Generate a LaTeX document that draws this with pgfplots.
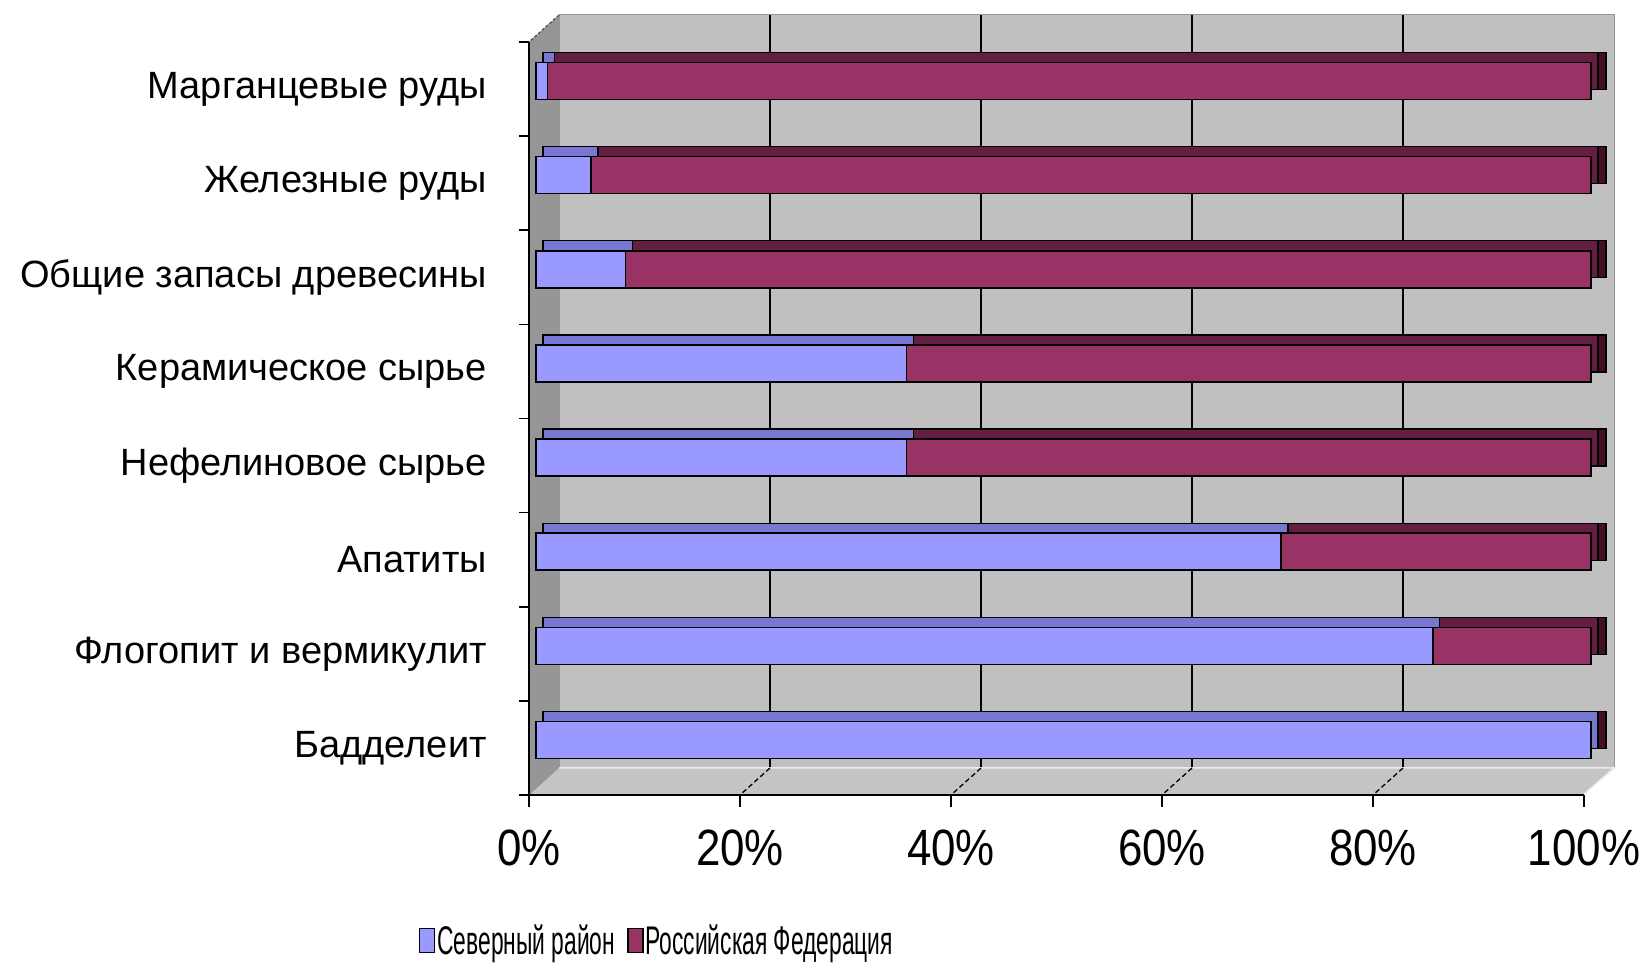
\documentclass[border=0pt]{standalone}
\usepackage{fontspec}
\setmainfont{Liberation Sans}
\usepackage{graphicx}
\usepackage{pgfplots}
\usepackage{pgfplotstable}
\pgfplotsset{compat=1.18}
\definecolor{wall}{RGB}{192,192,192}
\definecolor{sidew}{RGB}{150,150,150}
\definecolor{floorc}{RGB}{196,196,196}
\definecolor{north}{RGB}{153,153,255}
\definecolor{russ}{RGB}{153,51,102}
\definecolor{northtop}{RGB}{120,120,210}
\definecolor{russtop}{RGB}{100,30,65}
\definecolor{russside}{RGB}{70,15,40}
\pgfplotstableread{
y north russia
0.5 100.0 0.0
1.5 85.0 15.0
2.5 70.6 29.4
3.5 35.1 64.9
4.5 35.1 64.9
5.5 8.5 91.5
6.5 5.2 94.8
7.5 1.1 98.9
}\datatable
\pgfplotsset{
  base/.style={scale only axis, width=1055bp, height=753bp, xmin=0, xmax=100, ymin=0, ymax=8, anchor=south west, clip=false},
  barsax/.style={base, axis lines=none, xbar stacked, bar width=37bp, ytick=\empty, xtick=\empty},
}
\begin{document}
\begin{tikzpicture}[x=1bp,y=1bp]
\useasboundingbox (0,0) rectangle (1645,962);
% back wall
\begin{axis}[base, at={(559bp,194bp)},
  axis background/.style={fill=wall},
  axis line style={draw={rgb,255:red,150;green,150;blue,150}, line width=1bp},
  xtick={20,40,60,80}, xticklabels={}, ytick=\empty, major tick length=0pt,
  xmajorgrids, major grid style={black, line width=1.6bp}]
  \fill[floorc] (axis cs:0,0) -- (axis cs:100,0) -- ++(-31bp,-27bp) -- ++(-1055bp,0) -- cycle;
  \draw[white!85!gray, line width=1.5bp] (axis cs:0,0) -- (axis cs:100,0) -- ++(-31bp,-27bp);
  \fill[sidew] (axis cs:0,0) -- (axis cs:0,8) -- ++(-30bp,-27bp) -- ++(0,-753bp) -- cycle;
  \draw[black!70, line width=1.2bp, dash pattern=on 3bp off 2bp] (axis cs:0,8) -- ++(-30bp,-27bp);
  \draw[black, line width=1.3bp, dash pattern=on 5bp off 3bp] (axis cs:20,0) -- ++(-30bp,-27bp);
  \draw[black, line width=1.3bp, dash pattern=on 5bp off 3bp] (axis cs:40,0) -- ++(-30bp,-27bp);
  \draw[black, line width=1.3bp, dash pattern=on 5bp off 3bp] (axis cs:60,0) -- ++(-30bp,-27bp);
  \draw[black, line width=1.3bp, dash pattern=on 5bp off 3bp] (axis cs:80,0) -- ++(-30bp,-27bp);
\end{axis}
% bar side copies
\begin{axis}[barsax, at={(551bp,185bp)}]
  \addplot[fill=russside, draw=black, line width=1.3bp] table[x=north, y=y] \datatable;
  \addplot[fill=russside, draw=black, line width=1.3bp] table[x=russia, y=y] \datatable;
\end{axis}
% bar top copies
\begin{axis}[barsax, at={(543bp,185bp)}]
  \addplot[fill=northtop, draw=black, line width=1.3bp] table[x=north, y=y] \datatable;
  \addplot[fill=russtop, draw=black, line width=1.3bp] table[x=russia, y=y] \datatable;
\end{axis}
% bar front faces
\begin{axis}[barsax, at={(536bp,175bp)},
  legend style={at={(0.1147,-0.2040)}, anchor=center, draw=none, fill=none,
    legend columns=2, font=\fontsize{40bp}{42bp}\selectfont,
    nodes={inner sep=2bp},
    /tikz/every even column/.append style={column sep=10bp}},
  legend image code/.code={\draw[#1, line width=1.3bp] (0bp,-12bp) rectangle (15bp,12bp);}]
  \addplot[fill=north, draw=black, line width=1.5bp] table[x=north, y=y] \datatable;
  \addplot[fill=russ, draw=black, line width=1.5bp] table[x=russia, y=y] \datatable;
  \legend{\scalebox{0.57}[1]{Северный район}, \scalebox{0.57}[1]{Российская Федерация}}
\end{axis}
% front axes with ticks and labels
\begin{axis}[base, at={(529bp,167bp)},
  axis x line*=bottom, axis y line*=left,
  axis line style={black, line width=1.6bp},
  tick style={black, line width=1.6bp},
  tick align=outside,
  major tick length=12bp, minor tick length=10bp,
  xtick={0,20,40,60,80,100},
  xticklabels={\scalebox{0.86}[1]{0\%},\scalebox{0.86}[1]{20\%},\scalebox{0.86}[1]{40\%},\scalebox{0.86}[1]{60\%},\scalebox{0.86}[1]{80\%},\scalebox{0.86}[1]{100\%}},
  xticklabel style={font=\fontsize{51bp}{51bp}\selectfont, anchor=center, yshift=-41bp},
  ytick={0.5,1.5,...,7.5},
  minor ytick={0,1,...,8},
  major y tick style={draw=none},
  yticklabels={Бадделеит, Флогопит и вермикулит, Апатиты, Нефелиновое сырье, Керамическое сырье, Общие запасы древесины, Железные руды, Марганцевые руды},
  yticklabel style={font=\fontsize{38bp}{40bp}\selectfont, anchor=east, inner sep=0pt, xshift=-30bp},
]
\end{axis}
\end{tikzpicture}
\end{document}
